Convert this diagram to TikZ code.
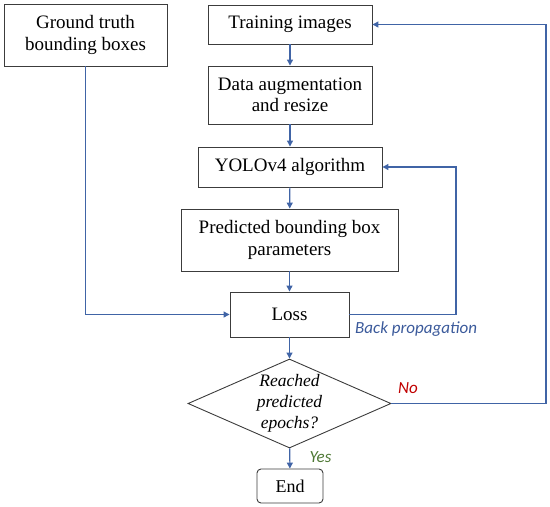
\documentclass[tikz,border=0pt]{standalone}
\usepackage{fontspec}
\setmainfont{Liberation Serif}
\newfontfamily\lblfont{Carlito}
\usetikzlibrary{arrows.meta,shapes.geometric}
\definecolor{linkblue}{RGB}{64,100,166}
\definecolor{bpblue}{RGB}{59,90,155}
\definecolor{nored}{RGB}{192,0,0}
\definecolor{yesgreen}{RGB}{78,120,52}
\definecolor{boxgray}{RGB}{60,60,60}
\tikzset{
  box/.style={draw=boxgray,line width=0.9pt,rectangle,inner sep=0pt,align=center,
    font=\fontsize{19}{21.5}\selectfont},
  dec/.style={draw=boxgray,line width=0.9pt,diamond,aspect=2.28,inner sep=0pt,align=center,
    minimum width=203pt,minimum height=89pt,font=\fontsize{17.5}{21}\selectfont\itshape},
  endbox/.style={draw=boxgray,line width=0.9pt,rectangle,rounded corners=4pt,inner sep=0pt,
    minimum width=66pt,minimum height=34pt,font=\fontsize{18}{21}\selectfont},
  arr/.style={draw=linkblue,line width=1.2pt,-{Triangle[length=6pt,width=6pt]}},
  lbl/.style={font=\lblfont\fontsize{17}{20}\selectfont\itshape,inner sep=0pt}
}
\begin{document}
\begin{tikzpicture}[x=1pt,y=-1pt]
\useasboundingbox (0,0) rectangle (550,507);
\node[box,minimum width=163pt,minimum height=62pt] (gt) at (85.5,35) {Ground truth\\bounding boxes};
\node[box,minimum width=164pt,minimum height=39pt] (train) at (290,24.5) {Training images};
\node[box,minimum width=164pt,minimum height=58pt] (aug) at (290,95) {Data augmentation\\and resize};
\node[box,minimum width=184pt,minimum height=40pt] (yolo) at (290,167) {YOLOv4 algorithm};
\node[box,minimum width=217pt,minimum height=62pt] (pred) at (289.5,240) {Predicted bounding box\\parameters};
\node[box,minimum width=119pt,minimum height=45pt] (loss) at (289.5,314.5) {Loss};
\node[dec] (dia) at (289.5,403.5) {Reached\\predicted\\epochs?};
\node[endbox] (end) at (290,486) {End};
\coordinate (bpc) at (456,167);
\coordinate (noc) at (546,24.5);
\draw[arr] (train) -- (aug);
\draw[arr] (aug) -- (yolo);
\draw[arr] (yolo) -- (pred);
\draw[arr] (pred) -- (loss);
\draw[arr] (loss) -- (dia);
\draw[arr] (dia) -- (end);
\draw[arr] (gt.south) |- (loss.west);
\draw[arr] (loss.east) -| (bpc) -- (yolo.east);
\draw[arr] (dia.east) -| (noc) -- (train.east);
\node[lbl,text=bpblue,anchor=west] (bp) at (355,329) {Back propagation};
\node[lbl,text=nored] (no) at (408,388) {No};
\node[lbl,text=yesgreen] (yes) at (320.5,457) {Yes};
\end{tikzpicture}
\end{document}
